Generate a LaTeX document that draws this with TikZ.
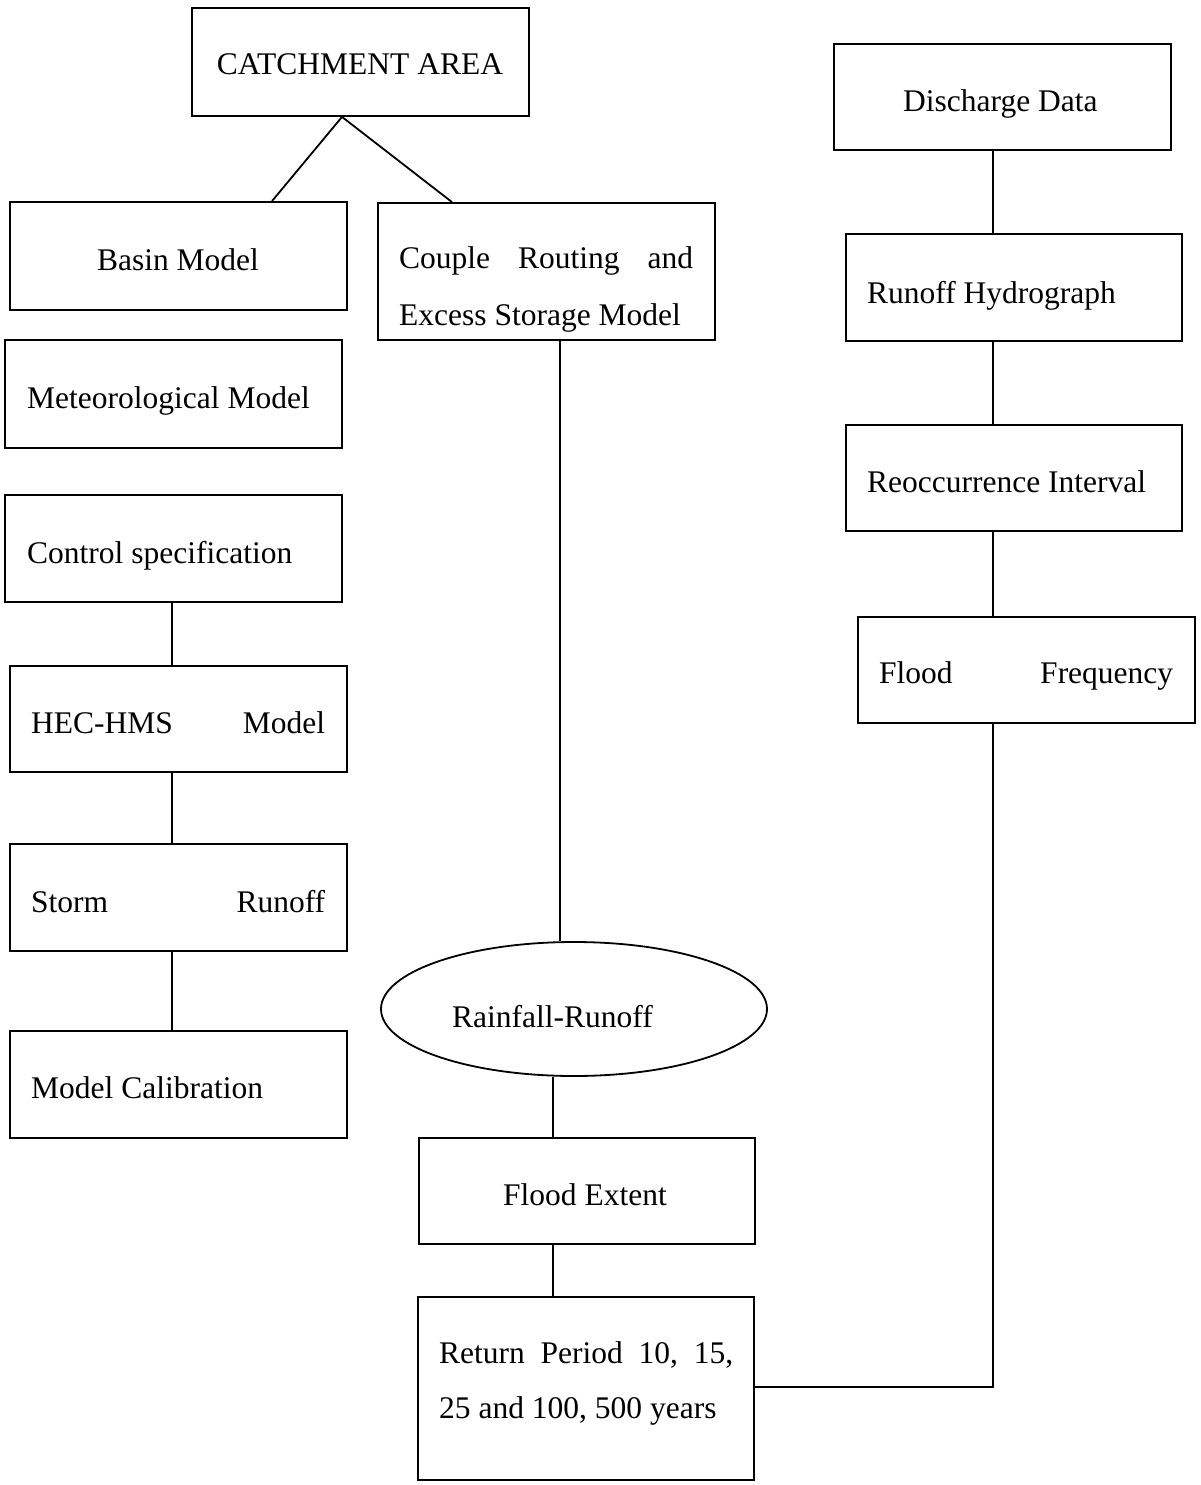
\documentclass[tikz,border=0pt]{standalone}
\usepackage{fontspec}
\setmainfont{Liberation Serif}
\usetikzlibrary{shapes.geometric}
\tikzset{
  box/.style={draw=black, line width=1.8pt, rectangle, inner sep=0pt, minimum width=337pt},
  oval/.style={draw=black, line width=1.8pt, ellipse, inner sep=0pt, minimum width=386pt, minimum height=134pt},
  lbl/.style={inner sep=0pt, anchor=base west, font=\fontsize{31.5}{38}\selectfont},
  clbl/.style={inner sep=0pt, anchor=base, font=\fontsize{31.5}{38}\selectfont},
  conn/.style={draw=black, line width=1.8pt}
}
\begin{document}
\begin{tikzpicture}[x=1pt, y=-1pt]
\useasboundingbox (0,0) rectangle (1201,1485);
% boxes
\node[box, minimum height=108pt] (catch) at (360.5,62) {};
\node[box, minimum height=108pt] (basin) at (178.5,256) {};
\node[box, minimum height=137pt] (couple) at (546.5,271.5) {};
\node[box, minimum height=108pt] (meteo) at (173.5,394) {};
\node[box, minimum height=107pt] (control) at (173.5,548.5) {};
\node[box, minimum height=106pt] (hec) at (178.5,719) {};
\node[box, minimum height=107pt] (storm) at (178.5,897.5) {};
\node[box, minimum height=107pt] (cal) at (178.5,1084.5) {};
\node[oval] (rain) at (574,1009) {};
\node[box, minimum width=336pt, minimum height=106pt] (extent) at (587,1191) {};
\node[box, minimum width=336pt, minimum height=183pt] (ret) at (586,1388.5) {};
\node[box, minimum height=106pt] (disch) at (1002.5,97) {};
\node[box, minimum width=336pt, minimum height=107pt] (hydro) at (1014,287.5) {};
\node[box, minimum width=336pt, minimum height=106pt] (reocc) at (1014,478) {};
\node[box, minimum height=106pt] (freq) at (1026.5,670) {};
% texts
\node[clbl] (tcatch) at (360,75) {CATCHMENT AREA};
\node[clbl] (tbasin) at (178,270) {Basin Model};
\node[lbl] (tcouple1) at (399,268) {\hbox to 294pt{Couple\hfill Routing\hfill and}};
\node[lbl] (tcouple2) at (399,325) {Excess Storage Model};
\node[lbl] (tmeteo) at (27,408) {Meteorological Model};
\node[lbl] (tcontrol) at (27,563) {Control specification};
\node[lbl] (thec) at (31,733) {\hbox to 294pt{HEC-HMS\hfill Model}};
\node[lbl] (tstorm) at (31,912) {\hbox to 294pt{Storm\hfill Runoff}};
\node[lbl] (tcal) at (31,1098) {Model Calibration};
\node[lbl] (train) at (452,1027) {Rainfall-Runoff};
\node[lbl] (textent) at (503,1205) {Flood Extent};
\node[lbl] (tret1) at (439,1363) {\hbox to 294pt{Return\hfill Period\hfill 10,\hfill 15,}};
\node[lbl] (tret2) at (439,1418) {25 and 100, 500 years};
\node[lbl] (tdisch) at (903,112) {Discharge Data};
\node[lbl] (thydro) at (867,303) {Runoff Hydrograph};
\node[lbl] (treocc) at (867,492) {Reoccurrence Interval};
\node[lbl] (tfreq) at (879,683) {\hbox to 294pt{Flood\hfill Frequency}};
% connector x positions
\coordinate (apex) at (342,0);
\coordinate (xl) at (272,0);
\coordinate (xr) at (452,0);
\coordinate (xc) at (560,0);
\coordinate (xe) at (553,0);
\coordinate (xleft) at (172,0);
\coordinate (xright) at (993,0);
\coordinate (corner) at (993,1387);
% connectors
\draw[conn] (catch.south -| apex) -- (basin.north -| xl);
\draw[conn] (catch.south -| apex) -- (couple.north -| xr);
\draw[conn] (couple.south -| xc) -- (rain.north -| xc);
\draw[conn] (rain.south -| xe) -- (extent.north -| xe);
\draw[conn] (extent.south -| xe) -- (ret.north -| xe);
\draw[conn] (control.south -| xleft) -- (hec.north -| xleft);
\draw[conn] (hec.south -| xleft) -- (storm.north -| xleft);
\draw[conn] (storm.south -| xleft) -- (cal.north -| xleft);
\draw[conn] (disch.south -| xright) -- (hydro.north -| xright);
\draw[conn] (hydro.south -| xright) -- (reocc.north -| xright);
\draw[conn] (reocc.south -| xright) -- (freq.north -| xright);
\draw[conn] (freq.south -| xright) -- (corner) -- (ret.east |- corner);
\end{tikzpicture}
\end{document}
